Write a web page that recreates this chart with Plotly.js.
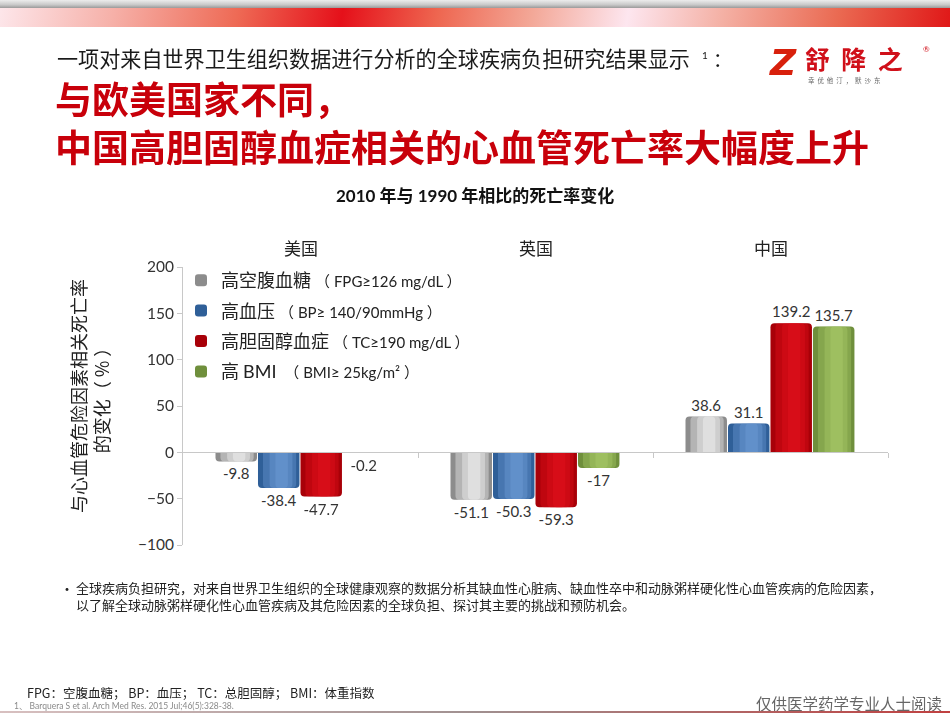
<!DOCTYPE html>
<html>
<head>
<meta charset="utf-8">
<script src="https://cdn.plot.ly/plotly-3.0.1.min.js"></script>
<style>
  html, body { margin:0; padding:0; background:#fff; }
  #wrap { position:relative; width:950px; height:713px; overflow:hidden; }
  #chart { position:absolute; left:0; top:0; width:950px; height:713px; }
  .band { position:absolute; left:0; width:950px; z-index:5; }
</style>
</head>
<body>
<div id="wrap">
  <div id="chart"></div>
  <div class="band" style="top:0;height:8px;background:linear-gradient(180deg,#ececec 0%,#c8c8c8 60%,#9a9a9a 100%);"></div>
  <div class="band" style="top:8px;height:19px;background:linear-gradient(100deg,#fde6ea 0%,#f6b0a8 12%,#ee6a55 25%,#e5101a 36%,#ee6650 46%,#f3a898 56%,#fde6ef 66%,#f4b0a4 76%,#ea6a52 88%,#e01818 100%);"></div>
  <div class="band" style="top:711px;height:2px;background:linear-gradient(90deg,#d8c0c0,#a09090 50%,#c04040);"></div>
</div>
<script>
// ---- data ----
const categories = ['美国', '英国', '中国'];
const seriesNames = [
  '高空腹血糖 <span style="font-family:Lato, Noto Sans CJK SC;font-size:15px">（ FPG≥126 mg/dL ）</span>',
  '高血压 <span style="font-family:Lato, Noto Sans CJK SC;font-size:15px">（ BP≥ 140/90mmHg ）</span>',
  '高胆固醇血症 <span style="font-family:Lato, Noto Sans CJK SC;font-size:15px">（ TC≥190 mg/dL ）</span>',
  '高 <span style="font-family:Lato">BMI</span> <span style="font-family:Lato, Noto Sans CJK SC;font-size:15px"> （ BMI≥ 25kg/m² ）</span>'
];
const fpg = [-9.8, -51.1, 38.6];
const bp  = [-38.4, -50.3, 31.1];
const tc  = [-47.7, -59.3, 139.2];
const bmi = [-0.2, -17, 135.7];
const yTickVals = [-100, -50, 0, 50, 100, 150, 200];

// ---- styles ----
const seriesValues = [fpg, bp, tc, bmi];
const baseColors  = ['#8c8c8c', '#2f5f98', '#a80008', '#6f8f3c'];
const lightColors = ['#f0f0f0', '#6d9ad4', '#e0101c', '#a8c868'];
const xIdx = categories.map((c, i) => i);

const W = 0.1765, STEP = 0.1808, START = -0.3617;
const traces = [];
seriesValues.forEach((vals, k) => {
  const off = START + k * STEP;
  traces.push({
    type: 'bar', x: xIdx, y: vals, name: seriesNames[k],
    legendgroup: 'g' + k,
    offset: off, width: W,
    marker: { color: baseColors[k], line: { width: 0 } },
    text: vals.map(v => String(v)), textposition: 'outside',
    textfont: { family: 'Lato, "Noto Sans CJK SC", sans-serif', size: 15, color: '#333' },
    constraintext: 'none', cliponaxis: false, hoverinfo: 'skip'
  });
  [[0.12, 0.8, 0.4], [0.28, 0.55, 0.45], [0.42, 0.3, 0.5]].forEach(([o, w, op]) => {
    traces.push({
      type: 'bar', x: xIdx, y: vals, showlegend: false, legendgroup: 'g' + k,
      offset: off + o * W, width: w * W, opacity: op,
      marker: { color: lightColors[k], line: { width: 0 } },
      hoverinfo: 'skip'
    });
  });
});

// pixel helpers for plot area 183..888 x, 267..545 y
const L = 183, R = 888, T = 267, B = 545;
const PX = p => (p - L) / (R - L);
const PY = p => (B - p) / (B - T);
const CJK = '"Noto Sans CJK SC", sans-serif';
const LAT = 'Lato, "Noto Sans CJK SC", sans-serif';

const annotations = [];
categories.forEach((c, i) => annotations.push({
  xref: 'x', yref: 'paper', x: i, y: PY(247), text: c, showarrow: false,
  font: { family: CJK, size: 17, color: '#222' }, xanchor: 'center', yanchor: 'middle'
}));
function ann(px, py, text, font, xanchor, extra) {
  annotations.push(Object.assign({
    xref: 'paper', yref: 'paper', x: PX(px), y: PY(py), text: text, showarrow: false,
    font: font, xanchor: xanchor || 'left', yanchor: 'middle', align: 'left'
  }, extra || {}));
}
ann(89, 396, '与心血管危险因素相关死亡率<br>的变化（ % ）', { family: CJK, size: 18, color: '#222' }, 'center', { textangle: -90, align: 'center' });
ann(55, 58, '一项对来自世界卫生组织数据进行分析的全球疾病负担研究结果显示', { family: CJK, size: 21.1, color: '#1a1a1a' });
ann(700, 55, '1', { family: LAT, size: 10, color: '#1a1a1a' });
ann(711, 58, '：', { family: CJK, size: 19, color: '#1a1a1a' });
ann(53, 122, '<b>与欧美国家不同，<br>中国高胆固醇血症相关的心血管死亡率大幅度上升</b>', { family: CJK, size: 37, color: '#c8000a' }, 'left', { align: 'left' });
ann(475, 195, '<b>2010 年与 1990 年相比的死亡率变化</b>', { family: LAT, size: 17, color: '#111' }, 'center');
ann(58, 588, '•', { family: CJK, size: 14, color: '#222' });
ann(74, 596, '全球疾病负担研究，对来自世界卫生组织的全球健康观察的数据分析其缺血性心脏病、缺血性卒中和动脉粥样硬化性心血管疾病的危险因素，<br>以了解全球动脉粥样硬化性心血管疾病及其危险因素的全球负担、探讨其主要的挑战和预防机会。', { family: CJK, size: 13, color: '#222' });
ann(25, 692, 'FPG：空腹血糖； BP：血压； TC：总胆固醇； BMI：体重指数', { family: CJK, size: 12.5, color: '#222' });
ann(12, 706, '1、 Barquera S et al. Arch Med Res. 2015 Jul;46(5):328-38.', { family: LAT, size: 8.5, color: '#8a8a8a' });
ann(944, 703, '仅供医学药学专业人士阅读', { family: CJK, size: 15.5, color: '#666' }, 'right');
// logo
ann(767, 63, '<b><i>Z</i></b>', { family: 'DejaVu Sans, sans-serif', size: 36, color: '#d8200c' });
ann(803, 58, '<b>舒&nbsp;&nbsp;降&nbsp;&nbsp;之</b>', { family: CJK, size: 25, color: '#d0101a' });
ann(921, 49, '®', { family: LAT, size: 8, color: '#d0101a' });
ann(806, 80, '幸&nbsp;&nbsp;优&nbsp;&nbsp;他&nbsp;&nbsp;汀&nbsp;&nbsp;，&nbsp;&nbsp;默&nbsp;&nbsp;沙&nbsp;&nbsp;东', { family: CJK, size: 6.5, color: '#666' });

const layout = {
  width: 950, height: 713,
  margin: { l: L, r: 950 - R, t: T, b: 713 - B, pad: 0 },
  paper_bgcolor: '#fff', plot_bgcolor: 'rgba(0,0,0,0)',
  barmode: 'overlay', barcornerradius: 4,
  showlegend: true,
  legend: {
    x: PX(181), y: PY(262), xanchor: 'left', yanchor: 'top',
    bgcolor: 'rgba(0,0,0,0)', traceorder: 'grouped', tracegroupgap: 4,
    font: { family: CJK, size: 18, color: '#222' }, itemwidth: 30
  },
  xaxis: {
    range: [-0.5, 2.5], anchor: 'free', position: PY(452),
    showline: true, linecolor: '#c8c8c8', linewidth: 1,
    tickmode: 'array', tickvals: [0.5, 1.5, 2.5], ticks: 'outside', ticklen: 5,
    tickcolor: '#c8c8c8', showticklabels: false, showgrid: false, zeroline: false, fixedrange: true
  },
  yaxis: {
    range: [-100, 200], tickmode: 'array', tickvals: yTickVals,
    ticks: 'outside', ticklen: 5, tickcolor: '#c8c8c8',
    showline: true, linecolor: '#c8c8c8', linewidth: 1,
    showgrid: false, zeroline: false,
    tickfont: { family: LAT, size: 15.5, color: '#333' }, fixedrange: true
  },
  annotations: annotations
};
Plotly.newPlot('chart', traces, layout, { displayModeBar: false, staticPlot: true });
</script>
</body>
</html>
